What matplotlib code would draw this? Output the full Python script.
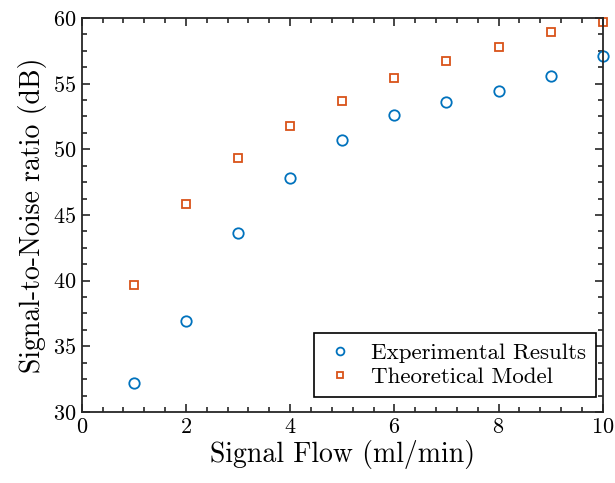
import matplotlib
matplotlib.use("Agg")
import matplotlib.pyplot as plt
from matplotlib.ticker import MultipleLocator

# data
flow = [1, 2, 3, 4, 5, 6, 7, 8, 9, 10]
snr_exp = [32.2, 36.9, 43.6, 47.8, 50.7, 52.6, 53.6, 54.4, 55.6, 57.1]
snr_model = [39.7, 45.8, 49.3, 51.8, 53.7, 55.4, 56.7, 57.8, 58.9, 59.7]

plt.rcParams['font.family'] = 'serif'
plt.rcParams['font.serif'] = ['cmr10', 'DejaVu Serif']
plt.rcParams['mathtext.fontset'] = 'cm'
plt.rcParams['axes.formatter.use_mathtext'] = True

fig = plt.figure(figsize=(6.15, 4.83), dpi=100)
ax = fig.add_axes([0.133, 0.147, 0.847, 0.816])

ax.plot(flow, snr_exp, linestyle='none', marker='o', ms=7.5, mfc='none',
        mec='#0072BD', mew=1.3, label='Experimental Results', clip_on=False)
ax.plot(flow, snr_model, linestyle='none', marker='s', ms=6, mfc='none',
        mec='#D95319', mew=1.3, label='Theoretical Model', clip_on=False)

ax.set_xlim(0, 10)
ax.set_ylim(30, 60)
ax.xaxis.set_major_locator(MultipleLocator(2))
ax.xaxis.set_minor_locator(MultipleLocator(0.4))
ax.yaxis.set_major_locator(MultipleLocator(5))
ax.yaxis.set_minor_locator(MultipleLocator(1.25))
ax.tick_params(which='both', direction='in', top=True, right=True,
               width=1.2, labelsize=16, colors='#262626', labelcolor='black')
ax.tick_params(which='major', length=6, pad=4)
ax.tick_params(which='minor', length=3.5)
for s in ax.spines.values():
    s.set_linewidth(1.3)
    s.set_color('#262626')

ax.set_xlabel('Signal Flow (ml/min)', fontsize=20, labelpad=2)
ax.set_ylabel('Signal-to-Noise ratio (dB)', fontsize=20, labelpad=4)

leg = ax.legend(loc='lower right', bbox_to_anchor=(0.987, 0.038),
                fontsize=16.5, fancybox=False, framealpha=1,
                edgecolor='black', handlelength=1.3, handletextpad=0.7,
                markerscale=0.75, borderpad=0.45, labelspacing=0.15,
                borderaxespad=0)
leg.get_frame().set_linewidth(1.2)

fig.savefig('out.png', dpi=100)
